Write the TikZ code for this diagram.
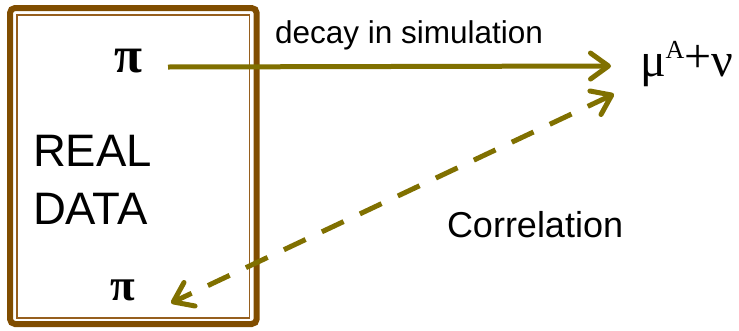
\documentclass[tikz,border=0pt]{standalone}
\usepackage{fontspec}
\setmainfont{Liberation Serif}
\setsansfont{Liberation Sans}
\usetikzlibrary{arrows.meta}
\definecolor{boxbrown}{RGB}{128,77,0}
\definecolor{innerbrown}{RGB}{150,95,30}
\definecolor{arrowolive}{RGB}{128,112,0}
\tikzset{
  txt/.style={inner sep=0pt, outer sep=0pt, text=black},
  barb/.tip={Straight Barb[length=18pt, width=26pt, round]},
  conn/.style={arrowolive, line width=5pt},
  dashconn/.style={conn, dash pattern=on 24pt off 18pt},
}
\begin{document}
\begin{tikzpicture}[x=1pt, y=-1pt]
\useasboundingbox (0,0) rectangle (739,330);
% box
\draw[boxbrown, line width=6pt, rounded corners=5pt] (10,8) rectangle (256.7,324);
\draw[innerbrown, line width=1.6pt] (17,15) rectangle (249.5,318);
% texts
\node[txt, anchor=base, font=\bfseries\fontsize{51}{51}\selectfont] (piTop) at (128.5,72) {π};
\node[txt, anchor=base, font=\bfseries\fontsize{45}{45}\selectfont] (piBot) at (123,300) {π};
\node[txt, anchor=north west, align=left, font=\sffamily\fontsize{45.5}{58}\selectfont] (real) at (33,135) {REAL\\DATA};
\node[txt, anchor=base west, font=\sffamily\fontsize{31.5}{31.5}\selectfont] (decay) at (275,43.3) {decay in simulation};
\node[txt, anchor=base west, font=\sffamily\fontsize{36}{36}\selectfont] (corr) at (447,237) {Correlation};
\node[txt, anchor=base west, font=\fontsize{48}{48}\selectfont] (mu) at (640,76) {μ\raisebox{18pt}{\fontsize{26}{26}\selectfont A}\raisebox{4pt}{+}ν};
% connectors
\coordinate (a1s) at (168,67);
\coordinate (a1e) at (611,66);
\draw[conn, -barb] (a1s) -- (a1e);
\coordinate (a2s) at (614,94);
\coordinate (a2e) at (171,303);
\draw[dashconn, barb-barb] (a2s) -- (a2e);
\end{tikzpicture}
\end{document}
